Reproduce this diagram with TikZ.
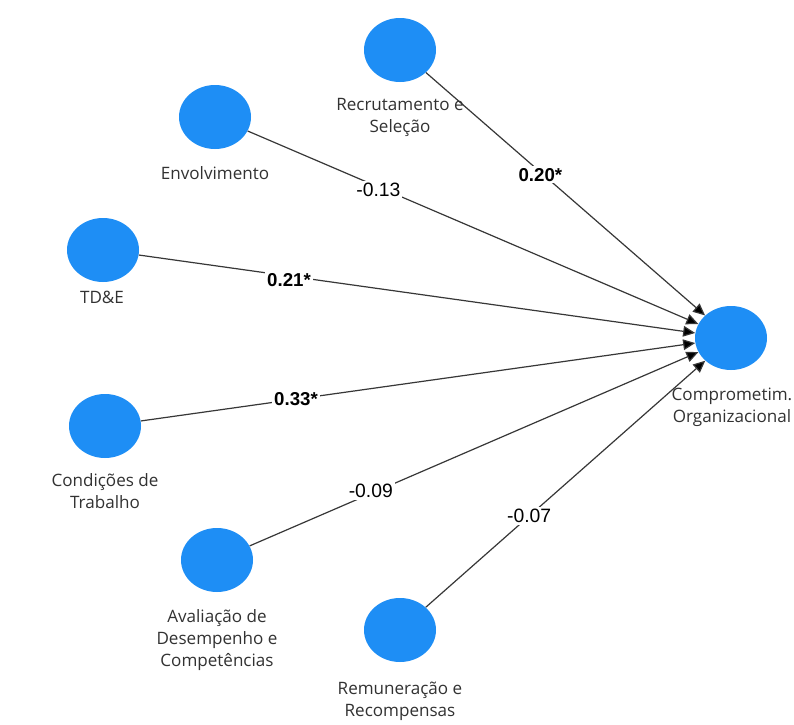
\documentclass[tikz,border=0pt]{standalone}
\usepackage{fontspec}
\setmainfont{Open Sans}
\newfontfamily\coeffont{Liberation Sans}
\usetikzlibrary{shapes.geometric,arrows.meta}
\definecolor{lvblue}{RGB}{30,142,245}
\definecolor{pathgray}{RGB}{55,55,55}
\definecolor{labgray}{RGB}{50,50,50}
\begin{document}
\begin{tikzpicture}[x=0.75pt,y=-0.75pt,
  lv/.style={ellipse,fill=lvblue,draw=none,minimum width=54pt,minimum height=48pt,inner sep=0pt},
  lvlabel/.style={align=center,font=\fontsize{12.8pt}{16.5pt}\selectfont,text=labgray,inner sep=1pt},
  path/.style={draw=pathgray,line width=0.9pt,-{Triangle[width=8pt,length=9pt,fill=black]}},
  coef/.style={fill=white,inner sep=1.5pt,font=\coeffont\fontsize{14.5pt}{16pt}\selectfont,text=black},
  coefb/.style={coef,font=\coeffont\bfseries\fontsize{14pt}{16pt}\selectfont}]
\path[fill=white] (0,0) rectangle (794,725);
\node[lv] (rec) at (400,50) {};
\node[lv] (env) at (215,117) {};
\node[lv] (tde) at (103,250) {};
\node[lv] (cond) at (105,426) {};
\node[lv] (aval) at (217,560) {};
\node[lv] (rem) at (400,630) {};
\node[lv] (comp) at (731,338) {};
\node[lvlabel] (lrec) at (400,117) {Recrutamento e\\Seleção};
\node[lvlabel] (lenv) at (215,173) {Envolvimento};
\node[lvlabel] (ltde) at (102,297) {TD\&E};
\node[lvlabel] (lcond) at (105,491) {Condições de\\Trabalho};
\node[lvlabel] (laval) at (217,640) {Avaliação de\\Desempenho e\\Competências};
\node[lvlabel] (lrem) at (400,701) {Remuneração e\\Recompensas};
\node[lvlabel] (lcomp) at (732,407) {Comprometim.\\Organizacional};
\draw[path] (rec) -- node[coefb,pos=0.41,yshift=-2pt] {0.20*} (comp);
\draw[path] (env) -- node[coef,pos=0.29,yshift=-2pt] {-0.13} (comp);
\draw[path] (tde) -- node[coefb,pos=0.27,yshift=-3pt] {0.21*} (comp);
\draw[path] (cond) -- node[coefb,pos=0.28] {0.33*} (comp);
\draw[path] (aval) -- node[coef,pos=0.27,yshift=2pt] {-0.09} (comp);
\draw[path] (rem) -- node[coef,pos=0.37] {-0.07} (comp);
\end{tikzpicture}
\end{document}
